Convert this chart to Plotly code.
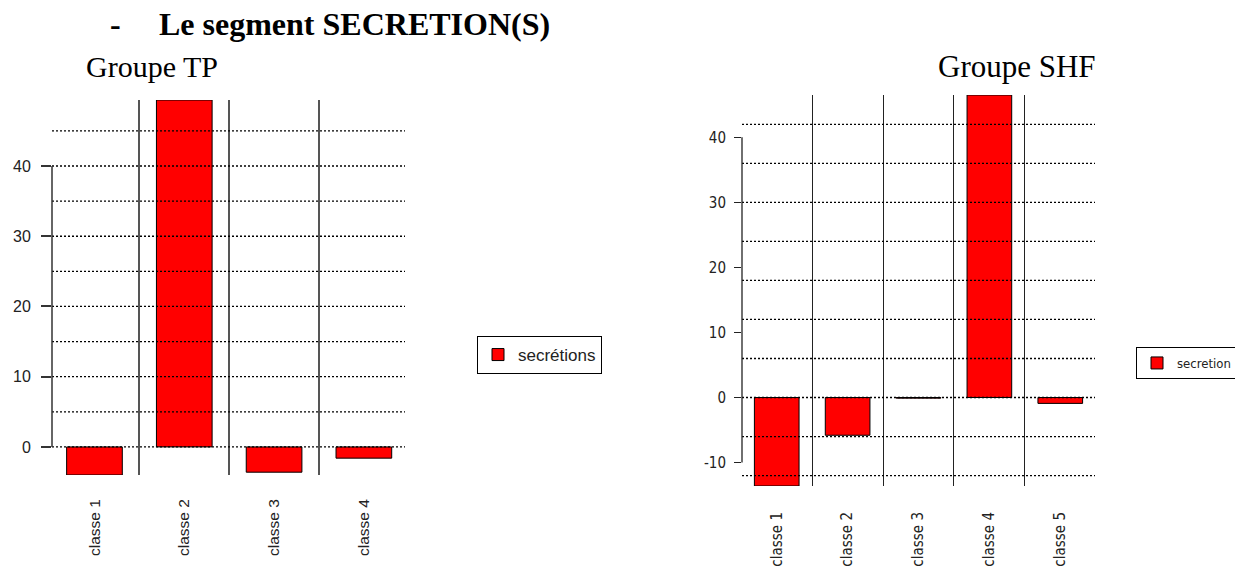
import plotly.graph_objects as go

# ---------------- data ----------------
left_categories = ["classe 1", "classe 2", "classe 3", "classe 4"]
left_values = [-4.0, 49.4, -3.6, -1.6]
left_ticks = [0, 10, 20, 30, 40]
left_gridlines = [0, 5, 10, 15, 20, 25, 30, 35, 40, 45]
left_series = "secrétions"

right_categories = ["classe 1", "classe 2", "classe 3", "classe 4", "classe 5"]
right_values = [-13.6, -5.8, -0.1, 46.5, -0.9]
right_ticks = [-10, 0, 10, 20, 30, 40]
right_gridlines = [-12, -6, 0, 6, 12, 18, 24, 30, 36, 42]
right_series = "secretion"

heading = "Le segment SECRETION(S)"
left_title = "Groupe TP"
right_title = "Groupe SHF"

# ---------------- layout helpers ----------------
W, H = 1235, 569
def px(x):
    return x / W
def py(y):
    return 1 - y / H

SANS = "Liberation Sans, Arial, sans-serif"
NARROW = "DejaVu Sans Condensed, Liberation Sans Narrow, Arial Narrow, Roboto Condensed, Liberation Sans, sans-serif"
SERIF = "Liberation Serif, Times New Roman, serif"
TXT = "#222222"

fig = go.Figure()

fig.add_trace(go.Bar(
    x=left_categories, y=left_values, name=left_series,
    width=0.62, marker=dict(color="#FF0000", line=dict(color="black", width=1)),
    xaxis="x", yaxis="y", legend="legend", showlegend=True,
))
fig.add_trace(go.Bar(
    x=right_categories, y=right_values, name=right_series,
    width=0.63, marker=dict(color="#FF0000", line=dict(color="black", width=1)),
    xaxis="x2", yaxis="y2", legend="legend2", showlegend=True,
))

common_x = dict(
    type="category", tickson="boundaries", showgrid=True,
    ticks="", tickangle=-90, showline=False, zeroline=False,
)

fig.update_layout(
    width=W, height=H,
    margin=dict(l=0, r=0, t=0, b=0, autoexpand=False),
    paper_bgcolor="white", plot_bgcolor="white",
    barmode="overlay",
    xaxis=dict(
        **common_x, domain=[px(52), px(405)], range=[-0.473, 3.458],
        gridcolor="#555555", gridwidth=1.5,
        tickfont=dict(family=SANS, size=15.5, color=TXT),
        ticklabelstandoff=20, anchor="y",
    ),
    yaxis=dict(
        domain=[py(475), py(100)],
        range=[min(left_values), max(left_values)],
        tickvals=left_ticks, ticktext=[str(v) for v in left_ticks],
        ticks="outside", ticklen=10, tickwidth=1.5,
        tickcolor="#333333", showgrid=False, zeroline=False, showline=False,
        tickfont=dict(family=SANS, size=16, color=TXT),
        ticklabelstandoff=7, anchor="x",
    ),
    xaxis2=dict(
        **common_x, domain=[px(742), px(1095)], range=[-0.49, 4.49],
        gridcolor="#222222", gridwidth=1.3,
        tickfont=dict(family=NARROW, size=15, color=TXT),
        ticklabelstandoff=22, anchor="y2",
    ),
    yaxis2=dict(
        domain=[py(486), py(95)],
        range=[min(right_values), max(right_values)],
        tickvals=right_ticks, ticktext=[str(v) for v in right_ticks],
        ticks="outside", ticklen=7, tickwidth=1.3,
        tickcolor="#222222", showgrid=False, zeroline=False, showline=False,
        tickfont=dict(family=NARROW, size=15, color=TXT),
        ticklabelstandoff=5, anchor="x2",
    ),
    legend=dict(
        x=px(477), y=py(336), xanchor="left", yanchor="top",
        bordercolor="black", borderwidth=1, bgcolor="white",
        font=dict(family=SANS, size=17, color=TXT),
    ),
    legend2=dict(
        x=px(1136), y=py(347), xanchor="left", yanchor="top",
        bordercolor="black", borderwidth=1, bgcolor="white",
        font=dict(family=NARROW, size=13, color=TXT),
    ),
)

# dotted reference lines drawn above the bars
shapes = []
for g in left_gridlines:
    shapes.append(dict(type="line", xref="x domain", yref="y", x0=0, x1=1, y0=g, y1=g,
                       line=dict(color="black", width=1.3, dash="2px,2px"), layer="above"))
for g in right_gridlines:
    shapes.append(dict(type="line", xref="x2 domain", yref="y2", x0=0, x1=1, y0=g, y1=g,
                       line=dict(color="black", width=1.3, dash="2px,2px"), layer="above"))
# R-style axis lines spanning only the labelled ticks
shapes.append(dict(type="line", xref="x domain", yref="y", x0=0, x1=0,
                   y0=min(left_ticks), y1=max(left_ticks),
                   line=dict(color="#333333", width=1.5), layer="above"))
shapes.append(dict(type="line", xref="x2 domain", yref="y2", x0=0, x1=0,
                   y0=min(right_ticks), y1=max(right_ticks),
                   line=dict(color="#222222", width=1.3), layer="above"))
fig.update_layout(shapes=shapes)

annotations = [
    dict(text="<b>-</b>", x=px(115), y=py(4), xanchor="center", yanchor="top",
         font=dict(family=SERIF, size=32, color="black")),
    dict(text="<b>" + heading + "</b>", x=px(157), y=py(4), xanchor="left", yanchor="top",
         font=dict(family=SERIF, size=32, color="black")),
    dict(text=left_title, x=px(84), y=py(48), xanchor="left", yanchor="top",
         font=dict(family=SERIF, size=30, color="black")),
    dict(text=right_title, x=px(935.5), y=py(47), xanchor="left", yanchor="top",
         font=dict(family=SERIF, size=31, color="black")),
]
for a in annotations:
    a.update(xref="paper", yref="paper", showarrow=False)
fig.update_layout(annotations=annotations)

fig.write_html(
    "out.html",
    config={"displayModeBar": False},
    post_script="document.body.style.margin='0';document.body.style.padding='0';",
)
